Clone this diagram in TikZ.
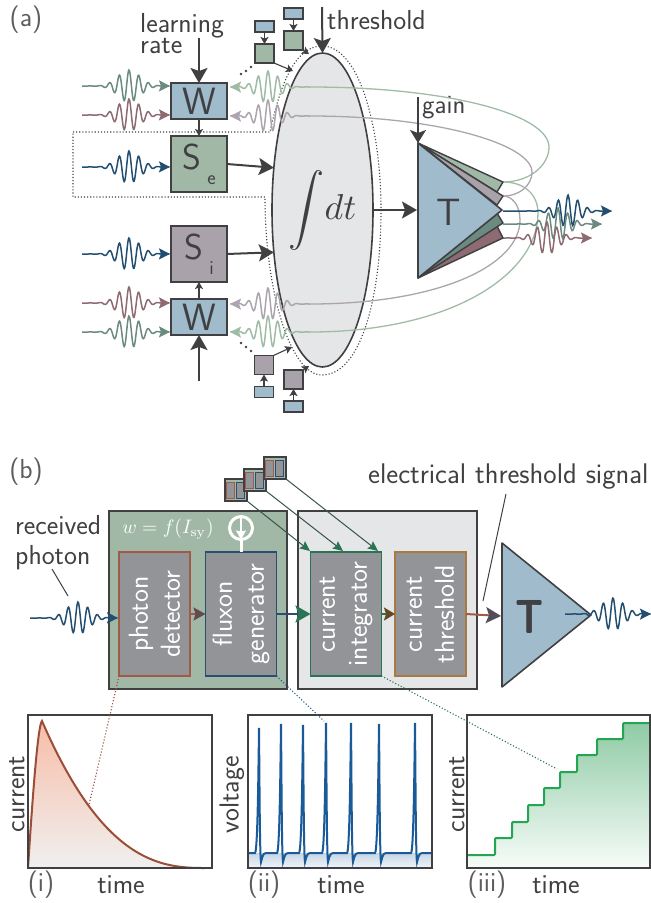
\documentclass[tikz,border=0pt]{standalone}
\usepackage{amsmath,amssymb}
\usepackage{graphicx}
\usepackage{xcolor}
\usepackage{tikz}
\usetikzlibrary{arrows.meta,shapes.geometric}
\renewcommand{\familydefault}{\sfdefault}
\definecolor{encre}{HTML}{404042}
\definecolor{bleuB}{HTML}{A0BBCB}
\definecolor{vertB}{HTML}{A1B8A6}
\definecolor{mauveB}{HTML}{A9A2AB}
\definecolor{grisE}{HTML}{E5E6E8}
\definecolor{grisB}{HTML}{929497}
\definecolor{ondeBleu}{HTML}{234E70}
\definecolor{ondeVert}{HTML}{6B8A80}
\definecolor{ondeMauve}{HTML}{8E6A72}
\definecolor{retourVert}{HTML}{A0BCA6}
\definecolor{retourGris}{HTML}{ACA4AE}
\definecolor{bordRouge}{HTML}{A05A46}
\definecolor{bordBleu}{HTML}{2A4E72}
\definecolor{bordVert}{HTML}{2A7355}
\definecolor{bordOr}{HTML}{A67A40}
\definecolor{courbeI}{HTML}{9A4E38}
\definecolor{saumon}{HTML}{F8BDA8}
\definecolor{courbeII}{HTML}{1B5A98}
\definecolor{courbeIII}{HTML}{22A650}
\definecolor{menthe}{HTML}{8FCBA5}
\newcommand{\taille}[1]{\fontsize{#1}{#1}\selectfont}
% wavelet : colour, start, end, centre, height
\newcommand{\wavelet}[5]{\draw[onde,#1] plot[domain=#2:#3,samples=170] (\x,{#5-16*exp(-(\x-#4)*(\x-#4)/240)*cos(37*(\x-#4))});}
\begin{document}
\begin{tikzpicture}[x=1pt,y=-1pt]
% Styles
\tikzstyle{onde}=[line width=1.5pt,-{Stealth[length=11pt,width=11pt,inset=2pt]}]
\tikzstyle{fleche}=[encre,line width=2pt,-{Stealth[length=15pt,width=17pt,inset=3pt]}]
\tikzstyle{flechette}=[encre,line width=1.1pt,-{Stealth[length=7pt,width=8pt,inset=1.5pt]}]
\tikzstyle{retour}=[line width=1.3pt]
\tikzstyle{boite}=[draw=encre,line width=1.5pt,inner sep=0pt,outer sep=0pt,text=encre]
\tikzstyle{grande}=[boite,minimum width=56pt,minimum height=56pt,font=\taille{36}]
\tikzstyle{poids}=[boite,fill=bleuB,minimum width=56pt,minimum height=36pt,font=\taille{38}]
\tikzstyle{petite}=[boite,line width=1.3pt,minimum width=19pt,minimum height=19pt]
\tikzstyle{plate}=[boite,line width=1.3pt,fill=bleuB,minimum width=19pt,minimum height=11pt]
\tikzstyle{panneau}=[boite,minimum width=178pt,minimum height=178pt]
\tikzstyle{bloc}=[draw,line width=1.8pt,fill=grisB,inner sep=0pt,outer sep=0pt,minimum width=71pt,minimum height=124pt]
\tikzstyle{blanc}=[text=white,rotate=90,align=center,inner sep=0pt,font=\fontsize{27.5}{32}\selectfont]
\tikzstyle{texte}=[text=encre,inner sep=0pt,font=\taille{27.5}]
\tikzstyle{cadre}=[draw=encre,line width=1.7pt,inner sep=0pt,outer sep=0pt,minimum height=153pt]
\tikzstyle{pointille}=[dotted,line width=1.1pt]
\useasboundingbox (0,0) rectangle (651,903);
% (a) Noeuds
\node[texte,text=encre!85] (LabA) at (26,20) {(a)};
\node[draw=encre,line width=1.6pt,fill=grisE,ellipse,inner sep=0pt,outer sep=0pt,minimum width=101pt,minimum height=314pt] (Int) at (322.5,210) {};
\draw[encre,pointille] (73,132) -- (270,132) .. controls (280,85) and (295,46) .. (322,46) .. controls (360,46) and (381,130) .. (381,210) .. controls (381,300) and (360,375) .. (322,375) .. controls (290,375) and (265,290) .. (265,197) -- (73,197) -- cycle;
\node (IntT) at (Int) {\scalebox{3.6}{\textcolor{encre}{$\displaystyle\int\!dt$}}};
\node[poids] (Wa) at (199,101) {W};
\node[grande,fill=vertB] (Se) at (199,164) {S\raisebox{-.42em}{\taille{20} e}};
\node[grande,fill=mauveB] (Si) at (199,254) {S\raisebox{-.42em}{\taille{20} i}};
\node[poids] (Wb) at (199,317) {W};
\node[petite,fill=vertB] (Ga) at (264.5,53.5) {};
\node[plate] (Ba) at (264.5,26.5) {};
\node[petite,fill=vertB] (Gb) at (293.5,40.5) {};
\node[plate] (Bb) at (293.5,13.5) {};
\node[petite,fill=mauveB] (Ma) at (264,365) {};
\node[plate] (Bc) at (264,392) {};
\node[petite,fill=mauveB] (Mb) at (293.5,379.5) {};
\node[plate] (Bd) at (293.5,406.5) {};
\node[texte,anchor=west,align=left,font=\fontsize{27.5}{21}\selectfont] (Lr) at (140,34) {learning\\rate};
\node[texte,anchor=west] (Th) at (327,20) {threshold};
\node[texte,anchor=west,font=\taille{26.5}] (Gn) at (422,108) {gain};
\coordinate (Lrp) at (199,38);
\coordinate (Thp) at (322,7);
\coordinate (Gnp) at (418,97);
\coordinate (Wbp) at (199,381);
\coordinate (Ica) at (293,71);
\coordinate (Icb) at (309,54);
\coordinate (Icc) at (292,347);
\coordinate (Icd) at (309,366);
% (a) Retours
\coordinate (Ta) at (418,143);
\coordinate (Tb) at (418,278);
\coordinate (Tc) at (502,210);
\coordinate (Tg) at (503,182);
\coordinate (Tm) at (503,196);
\coordinate (Rga) at (310,87);
\coordinate (Rma) at (310,116);
\coordinate (Rmb) at (310,304);
\coordinate (Rgb) at (310,332);
\draw[retour,retourVert] (Tg) .. controls (530,182) and (549,165) .. (549,147) .. controls (549,115) and (450,87) .. (Rga);
\draw[retour,retourGris] (Tm) .. controls (520,196) and (532,185) .. (532,172) .. controls (532,145) and (440,116) .. (Rma);
\draw[retour,retourGris] (Tm) .. controls (512,196) and (520,205) .. (520,220) .. controls (520,265) and (440,304) .. (Rmb);
\draw[retour,retourVert] (Tg) .. controls (525,182) and (538,195) .. (538,213) .. controls (538,275) and (450,332) .. (Rgb);
\wavelet{retourVert}{310}{230}{268}{87}
\wavelet{retourGris}{310}{230}{268}{116}
\wavelet{retourGris}{310}{230}{268}{304}
\wavelet{retourVert}{310}{230}{268}{332}
% (a) Ondes
\wavelet{ondeVert}{82}{170}{129}{86}
\wavelet{ondeMauve}{82}{170}{129}{115}
\wavelet{ondeBleu}{82}{170}{129}{167}
\wavelet{ondeBleu}{82}{170}{129}{254}
\wavelet{ondeMauve}{82}{170}{129}{303}
\wavelet{ondeVert}{82}{170}{129}{332}
\wavelet{ondeBleu}{503}{612}{568}{211}
\wavelet{ondeVert}{503}{602}{558}{224}
\wavelet{ondeMauve}{503}{592}{547}{238}
% (a) Triangle
\draw[encre,line width=1.4pt,fill=vertB,line join=round] (Ta) -- (Tg) -- (497,192) -- cycle;
\draw[encre,line width=1.4pt,fill=mauveB,line join=round] (Ta) -- (Tm) -- (497,205) -- cycle;
\draw[encre,line width=1.4pt,fill=ondeMauve,line join=round] (Tb) -- (503,238) -- (497,226) -- cycle;
\draw[encre,line width=1.4pt,fill=ondeVert,line join=round] (Tb) -- (503,223) -- (497,213) -- cycle;
\draw[encre,line width=1.6pt,fill=bleuB,line join=round] (Ta) -- (Tb) -- (Tc) -- cycle;
\node[text=encre,font=\taille{38}] (Tt) at (449,212) {T};
% (a) Arcs
\draw[fleche] (Lrp) -- (Wa.north);
\draw[fleche] (Thp) -- (Int.north);
\draw[fleche] (Wbp) -- (Wb.south);
\draw[flechette] (Wa.south) -- (Se.north);
\draw[flechette] (Wb.north) -- (Si.south);
\draw[fleche] (Se.east) -- (Int.139);
\draw[fleche] (Si.east) -- (Int.221);
\draw[fleche,line width=1.8pt] (Int.east) -- (417,210);
\draw[fleche,line width=1.6pt,-{Stealth[length=13pt,width=16pt,inset=3pt]}] (Gnp) -- (Ta);
\draw[flechette] (Ba) -- (Ga);
\draw[flechette] (Bb) -- (Gb);
\draw[flechette] (Bc) -- (Ma);
\draw[flechette] (Bd) -- (Mb);
\draw[flechette] (Ga.south east) -- (Ica);
\draw[flechette] (Gb.south east) -- (Icb);
\draw[flechette] (Ma.north east) -- (Icc);
\draw[flechette] (Mb.north east) -- (Icd);
\foreach \px/\py in {241/74,246/71,251/67,241/343,246/347,251/351}
  \fill[encre] (\px,\py) circle (1.3pt);
% (b) Noeuds
\node[texte,text=encre!85] (LabB) at (26,472) {(b)};
\node[panneau,fill=vertB] (PV) at (198,600) {};
\node[panneau,fill=grisE,minimum width=179pt] (PG) at (387.5,600) {};
\node[bloc,draw=bordRouge] (DP) at (154.5,614) {};
\node[bloc,draw=bordBleu] (GF) at (241,614) {};
\node[bloc,draw=bordVert] (IC) at (346,614) {};
\node[bloc,draw=bordOr] (SC) at (430.5,614) {};
\node[blanc] (DPt) at (DP) {photon\\detector};
\node[blanc] (GFt) at (GF) {fluxon\\generator};
\node[blanc] (ICt) at (IC) {current\\integrator};
\node[blanc] (SCt) at (SC) {current\\threshold};
\node (Eq) at (168,529) {\scalebox{1.95}{\textcolor{white}{$w=f(I_{\mathrm{sy}})$}}};
\node[draw=white,line width=3pt,circle,inner sep=0pt,minimum size=23pt,outer sep=0pt] (Src) at (241,528) {};
\draw[white,line width=3pt] (Src.south) -- (GF.north);
\draw[white,line width=1.4pt,-{Stealth[length=9pt,width=10pt,inset=1pt]}] (Src.north) -- (Src.south);
\coordinate (Tba) at (502,543);
\coordinate (Tbb) at (502,687);
\coordinate (Tbc) at (591,615);
\draw[encre,line width=1.6pt,fill=bleuB,line join=round] (Tba) -- (Tbb) -- (Tbc) -- cycle;
\node[text=encre,font=\bfseries\taille{48}] (Tbt) at (530,617) {\scalebox{.8}[1]{T}};
\foreach \nom/\px/\py in {A/236/490,B/255/480,C/275/468}
{
  \node[boite,line width=1.1pt,fill=vertB,minimum size=22pt] (Pile\nom) at (\px,\py) {};
  \node[draw=bordRouge,line width=0.9pt,fill=grisB,inner sep=0pt,minimum width=8pt,minimum height=16pt] (Pr\nom) at ({\px-5.5},\py) {};
  \node[draw=bordBleu,line width=0.9pt,fill=grisB,inner sep=0pt,minimum width=8pt,minimum height=16pt] (Pb\nom) at ({\px+4.5},\py) {};
}
\node[texte,anchor=west] (Rc) at (15,525) {received};
\node[texte,anchor=west] (Ph) at (15,558) {photon};
\node[texte,anchor=west,font=\taille{28.4}] (El) at (368,477) {electrical threshold signal};
\coordinate (Pha) at (52,569);
\coordinate (Phb) at (68,596);
\coordinate (Ela) at (506,494);
\coordinate (Elb) at (483,601);
\coordinate (ICa) at (310,551);
\coordinate (ICb) at (343,551);
\coordinate (ICc) at (378,551);
% (b) Arcs
\draw[encre,line width=1pt] (Pha) -- (Phb);
\draw[encre,line width=1pt] (Ela) -- (Elb);
\draw[line width=1pt,encre!60!bordVert,-{Stealth[length=10pt,width=9pt,inset=1.5pt,color=bordVert]}] (PileA.south east) -- (ICa);
\draw[line width=1pt,encre!60!bordVert,-{Stealth[length=10pt,width=9pt,inset=1.5pt,color=bordVert]}] (PileB.south east) -- (ICb);
\draw[line width=1pt,encre!60!bordVert,-{Stealth[length=10pt,width=9pt,inset=1.5pt,color=bordVert]}] (PileC.south east) -- (ICc);
\wavelet{ondeBleu}{30}{118}{78}{618}
\wavelet{ondeBleu}{565}{651}{613}{614}
\draw[bordRouge,line width=2pt,-{Stealth[length=12pt,width=13pt,inset=2pt,color=ondeMauve!70!black]}] (DP.east) -- (GF.west);
\draw[bordBleu,line width=2.5pt,-{Stealth[length=15pt,width=17pt,inset=3pt,color=bordVert]}] (GF.east) -- (IC.west);
\draw[bordVert,line width=2pt,-{Stealth[length=11pt,width=13pt,inset=2pt,color=bordOr!60!black]}] (IC.east) -- (SC.west);
\draw[bordRouge,line width=2pt,-{Stealth[length=15pt,width=16pt,inset=3pt,color=ondeMauve!60!bordBleu!80!black]}] (SC.east) -- (501,616);
% Courbes
\fill[top color=saumon,bottom color=black!6] (28,868) .. controls (33,790) and (38,725) .. (42,721) -- plot[domain=42:205,samples=60] (\x,{868-147*(1-(\x-42)/163)^2.55}) -- cycle;
\draw[courbeI,line width=2pt] (28,868) .. controls (33,790) and (38,725) .. (42,721) -- plot[domain=42:205,samples=60] (\x,{868-147*(1-(\x-42)/163)^2.55});
\fill[top color=courbeII!25!white,bottom color=courbeII!8!white] (249,853) rectangle (431,867);
\draw[courbeII,line width=2pt] (249,853)
  \foreach \px/\py in {259/728,281/724,303/725,326/723,351/723,379/724,415/723}
  { -- ({\px-4},853) .. controls ({\px-1.4},852) and ({\px-.6},{\py+45}) .. (\px,\py) .. controls ({\px+.5},{\py+45}) and ({\px+.7},855) .. ({\px+2},862) .. controls ({\px+3},859) and ({\px+3.5},853) .. ({\px+7},853) } -- (431,853);
\fill[top color=menthe,bottom color=courbeIII!4!white] (468,855) -| (495,838) -| (512,822) -| (528,805) -| (544,788) -| (560,772) -| (577,755) -| (597,739) -| (623,723) -| (650,867) -- (468,867) -- cycle;
\draw[courbeIII,line width=2pt,rounded corners=1pt] (468,855) -| (495,838) -| (512,822) -| (528,805) -| (544,788) -| (560,772) -| (577,755) -| (597,739) -| (623,723) -- (650,723);
\node[cadre,minimum width=184pt] (Ci) at (120,791.5) {};
\node[cadre,minimum width=184pt] (Cii) at (340,791.5) {};
\node[cadre,minimum width=183pt] (Ciii) at (558.5,791.5) {};
\coordinate (Pi) at (89,805);
\coordinate (Pii) at (324,721);
\coordinate (Piii) at (557,769);
\draw[pointille,courbeI] (DP.south west) -- (Pi);
\draw[pointille,courbeII] (GF.south east) -- (Pii);
\draw[pointille,bordVert] (IC.south east) -- (Piii);
% Legendes
\node[texte,text=encre!85] (Li) at (41,885) {(i)};
\node[texte] (Ti) at (121,885) {time};
\node[texte,text=encre!85] (Lii) at (264,885) {(ii)};
\node[texte] (Tii) at (341,885) {time};
\node[texte,text=encre!85] (Liii) at (487,885) {(iii)};
\node[texte] (Tiii) at (556,885) {time};
\node[texte,rotate=90] (Yi) at (17,794) {current};
\node[texte,rotate=90] (Yii) at (232,795) {voltage};
\node[texte,rotate=90] (Yiii) at (457,794) {current};
\end{tikzpicture}
\end{document}
